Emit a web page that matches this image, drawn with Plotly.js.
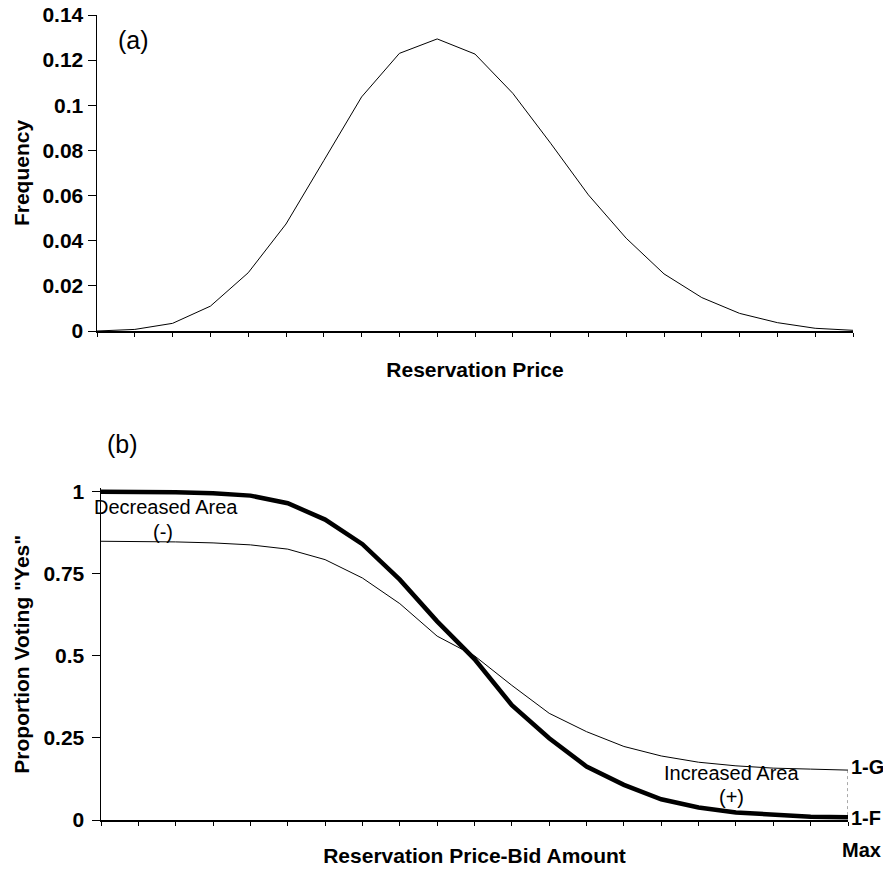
<!DOCTYPE html>
<html>
<head>
<meta charset="utf-8">
<script src="https://cdn.plot.ly/plotly-3.0.1.min.js"></script>
<style>html,body{margin:0;padding:0;background:#fff;}#chart{width:883px;height:876px;}</style>
</head>
<body>
<div id="chart"></div>
<script>
// Panel (a): reservation price distribution (21 equally spaced price points)
var priceIdx = [0,1,2,3,4,5,6,7,8,9,10,11,12,13,14,15,16,17,18,19,20];
var frequency = [0, 0.0007, 0.0034, 0.011, 0.0258, 0.0474, 0.0755, 0.1037, 0.123, 0.1294,
                 0.1227, 0.1053, 0.0832, 0.0603, 0.0411, 0.0253, 0.0148, 0.0078, 0.0037, 0.0012, 0.0003];

// Panel (b): proportion voting "Yes" vs reservation price - bid amount
var bidIdx = [0,1,2,3,4,5,6,7,8,9,10,11,12,13,14,15,16,17,18,19,20];
var yesF = [1.0, 1.0, 0.998, 0.995, 0.988, 0.965, 0.915, 0.84, 0.732, 0.605,
            0.49, 0.35, 0.249, 0.163, 0.107, 0.063, 0.038, 0.023, 0.015, 0.01, 0.008];
var yesG = [0.849, 0.849, 0.847, 0.844, 0.838, 0.825, 0.793, 0.737, 0.659, 0.56,
            0.5, 0.41, 0.325, 0.269, 0.224, 0.195, 0.176, 0.165, 0.158, 0.155, 0.152];
var yTicksB = [0, 0.25, 0.5, 0.75, 1];
var yTickTextB = ['0', '0.25', '0.5', '0.75', '1'];

var FONT = 'Liberation Sans, Arial, sans-serif';

var DOM_X1 = [97/883, 853/883], DOM_Y1 = [1 - 331/876, 1 - 15/876];
var DOM_X2 = [101/883, 848/883], DOM_Y2 = [1 - 820/876, 1 - 488.4/876];
var RANGE_Y1 = [0, 0.14], RANGE_Y2 = [0, 1.01];

var traces = [
  {x: priceIdx, y: frequency, type: 'scatter', mode: 'lines', xaxis: 'x', yaxis: 'y',
   line: {color: '#000', width: 1}, hoverinfo: 'skip'},
  {x: bidIdx, y: yesG, type: 'scatter', mode: 'lines', xaxis: 'x2', yaxis: 'y2',
   line: {color: '#000', width: 1}, hoverinfo: 'skip'},
  {x: bidIdx, y: yesF, type: 'scatter', mode: 'lines', xaxis: 'x2', yaxis: 'y2',
   line: {color: '#000', width: 4.5}, hoverinfo: 'skip'}
];

function xAxis(domain, anchor, titleText, standoff) {
  return {
    domain: domain, anchor: anchor, range: [0, 20],
    tickvals: priceIdx, showticklabels: false,
    ticks: 'outside', ticklen: 4, tickwidth: 1, tickcolor: '#000',
    showline: true, linecolor: '#000', linewidth: 1.5,
    showgrid: false, zeroline: false,
    title: {text: titleText, font: {family: FONT, size: 21, weight: 'bold', color: '#000'}, standoff: standoff}
  };
}
// companion axes that add the inner half of the crossing tick marks
function innerX(domain, anchor, over) {
  return {domain: domain, anchor: anchor, overlaying: over, range: [0, 20], tickvals: priceIdx,
          showticklabels: false, ticks: 'inside', ticklen: 3, tickwidth: 1, tickcolor: '#000',
          showline: false, showgrid: false, zeroline: false};
}
function innerY(domain, anchor, over, range, tv) {
  var a = {domain: domain, anchor: anchor, overlaying: over, range: range,
          showticklabels: false, ticks: 'inside', ticklen: 4, tickwidth: 1, tickcolor: '#000',
          showline: false, showgrid: false, zeroline: false};
  if (tv) { a.tickvals = tv; } else { a.tick0 = 0; a.dtick = 0.02; }
  return a;
}

function txt(text, xref, yref, x, y, size, bold, extra) {
  var a = {text: text, xref: xref, yref: yref, x: x, y: y, showarrow: false,
           xanchor: 'center', yanchor: 'middle',
           font: {family: FONT, size: size, weight: bold ? 'bold' : 'normal', color: '#000'}};
  if (extra) { for (var k in extra) a[k] = extra[k]; }
  return a;
}

var layout = {
  width: 883, height: 876,
  margin: {l: 0, r: 0, t: 0, b: 0},
  paper_bgcolor: '#fff', plot_bgcolor: '#fff',
  showlegend: false,
  font: {family: FONT, color: '#000'},
  xaxis: xAxis(DOM_X1, 'y', 'Reservation Price', 27),
  yaxis: {
    domain: DOM_Y1, anchor: 'x', range: RANGE_Y1,
    tick0: 0, dtick: 0.02,
    ticks: 'outside', ticklen: 8, tickcolor: '#000',
    tickfont: {family: FONT, size: 21, weight: 'bold', color: '#000'},
    showline: true, linecolor: '#000', linewidth: 1.5,
    showgrid: false, zeroline: false,
    title: {text: 'Frequency', font: {family: FONT, size: 21, weight: 'bold', color: '#000'}, standoff: 7}
  },
  xaxis2: xAxis(DOM_X2, 'y2', 'Reservation Price-Bid Amount', 24),
  yaxis2: {
    domain: DOM_Y2, anchor: 'x2', range: RANGE_Y2,
    tickvals: yTicksB, ticktext: yTickTextB,
    ticks: 'outside', ticklen: 8, tickcolor: '#000', ticklabelstandoff: 3,
    tickfont: {family: FONT, size: 21, weight: 'bold', color: '#000'},
    showline: true, linecolor: '#000', linewidth: 1.5,
    showgrid: false, zeroline: false,
    title: {text: 'Proportion Voting "Yes"', font: {family: FONT, size: 21, weight: 'bold', color: '#000'}, standoff: 8}
  },
  xaxis3: innerX(DOM_X1, 'y', 'x'),
  yaxis3: innerY(DOM_Y1, 'x', 'y', RANGE_Y1, null),
  xaxis4: innerX(DOM_X2, 'y2', 'x2'),
  yaxis4: innerY(DOM_Y2, 'x2', 'y2', RANGE_Y2, yTicksB),
  shapes: [
    {type: 'line', xref: 'x2', yref: 'y2', x0: 20, x1: 20, y0: yesG[20], y1: yesF[20],
     line: {color: '#555', width: 1, dash: 'dot'}}
  ],
  annotations: [
    txt('(a)', 'paper', 'paper', 133/883, 1 - 40/876, 25, false),
    txt('(b)', 'paper', 'paper', 122/883, 1 - 444/876, 25, false),
    txt('Decreased Area', 'x2', 'y2', 1.74, 0.954, 20, false),
    txt('(-)', 'x2', 'y2', 1.66, 0.878, 20, false),
    txt('Increased Area', 'x2', 'y2', 16.89, 0.143, 20, false),
    txt('(+)', 'x2', 'y2', 16.87, 0.07, 20, false),
    txt('1-G', 'x2', 'y2', 20, 0.162, 20, true, {xanchor: 'left', xshift: 1}),
    txt('1-F', 'x2', 'y2', 20, 0.006, 20, true, {xanchor: 'left', xshift: 1}),
    txt('Max', 'paper', 'paper', 861/883, 1 - 850/876, 20, true)
  ]
};

Plotly.newPlot('chart', traces, layout, {staticPlot: true, displayModeBar: false});
</script>
</body>
</html>
